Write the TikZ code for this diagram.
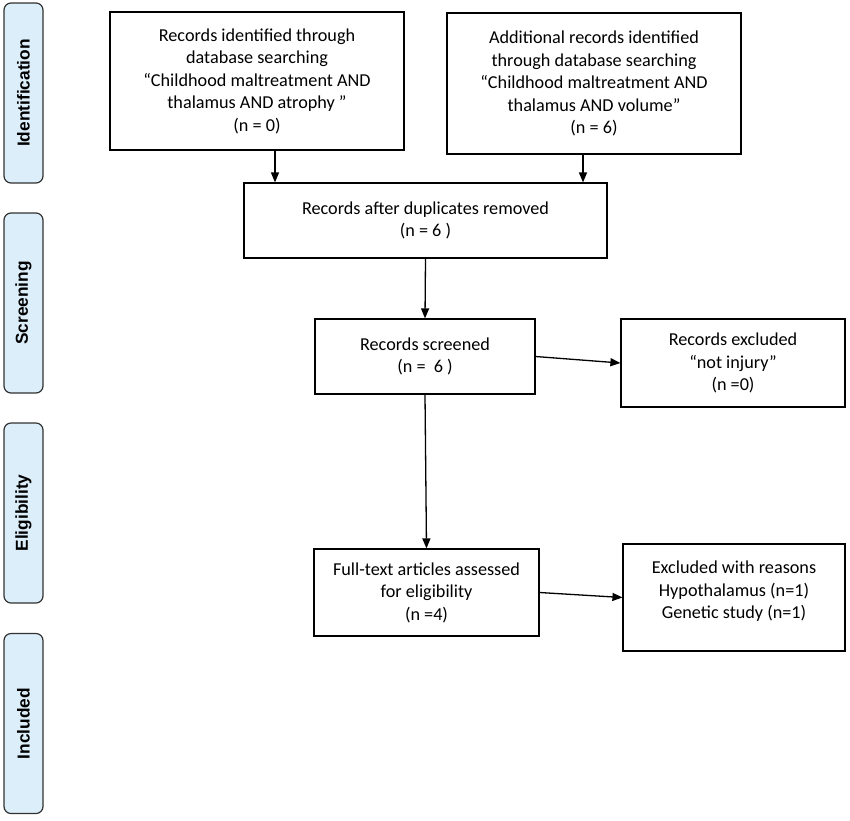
\documentclass[tikz,border=0pt]{standalone}
\usepackage{fontspec}
\setmainfont{Carlito}
\newfontfamily\barfont{Liberation Sans}
\usetikzlibrary{arrows.meta}
\definecolor{barblue}{RGB}{219,238,250}
\definecolor{bardraw}{RGB}{50,50,50}
\tikzset{
  box/.style={draw=black, line width=1.2pt, inner sep=0pt, align=center,
    font=\fontsize{18.2}{22.5}\selectfont},
  txt/.style={inner sep=0pt, align=center, font=\fontsize{18.2}{22.5}\selectfont},
  phase/.style={draw=bardraw, fill=barblue, line width=1.2pt, rounded corners=7pt,
    minimum width=39pt, minimum height=180pt, inner sep=0pt},
  phasetxt/.style={rotate=90, font=\barfont\bfseries\fontsize{17.3}{20}\selectfont},
  arr/.style={-{Triangle[length=10pt,width=8pt]}, line width=1.3pt, draw=black}
}
\begin{document}
\begin{tikzpicture}[x=1pt,y=-1pt]
\useasboundingbox (0,0) rectangle (850,820);
% phase bars
\node[phase] (pid) at (23.5,93) {};
\node[phasetxt] (tid) at (pid.center) {Identification};
\node[phase] (psc) at (23.5,303) {};
\node[phasetxt] (tsc) at (psc.center) {Screening};
\node[phase] (pel) at (23.5,513) {};
\node[phasetxt] (tel) at (pel.center) {Eligibility};
\node[phase] (pin) at (23.5,723.5) {};
\node[phasetxt] (tin) at (pin.center) {Included};
% boxes
\node[box, minimum width=294pt, minimum height=138pt] (b1) at (257,81)
  {Records identified through\\database searching\\“Childhood maltreatment AND\\thalamus AND atrophy ”\\(n = 0)};
\node[box, minimum width=294pt, minimum height=141pt] (b2) at (594,83.5)
  {Additional records identified\\through database searching\\“Childhood maltreatment AND\\thalamus AND volume”\\(n = 6)};
\node[box, minimum width=363pt, minimum height=75pt] (b3) at (425.5,220.5)
  {Records after duplicates removed\\(n = 6 )};
\node[box, minimum width=220pt, minimum height=75pt] (b4) at (425,356.5)
  {Records screened\\(n =\ \ 6 )};
\node[box, minimum width=224pt, minimum height=88pt] (b5) at (733,363)
  {Records excluded\\“not injury”\\(n =0)};
\node[box, minimum width=225pt, minimum height=87pt] (b6) at (426.5,592.5)
  {Full-text articles assessed\\for eligibility\\(n =4)};
\node[box, minimum width=222pt, minimum height=107pt] (b7) at (734,597.5) {};
\node[txt] (t7) at (734,591.5) {Excluded with reasons\\Hypothalamus (n=1)\\Genetic study (n=1)};
% connectors
\coordinate (x1) at (275,0);
\coordinate (x2) at (583,0);
\draw[arr] (b1.south -| x1) -- (b3.north -| x1);
\draw[arr] (b2.south -| x2) -- (b3.north -| x2);
\draw[arr] (b3.south) -- (b4.north);
\draw[arr] (b4.east) -- (b5.west);
\draw[arr] (b4.south) -- (b6.north);
\draw[arr] (b6.east) -- (b7.west);
\end{tikzpicture}
\end{document}
